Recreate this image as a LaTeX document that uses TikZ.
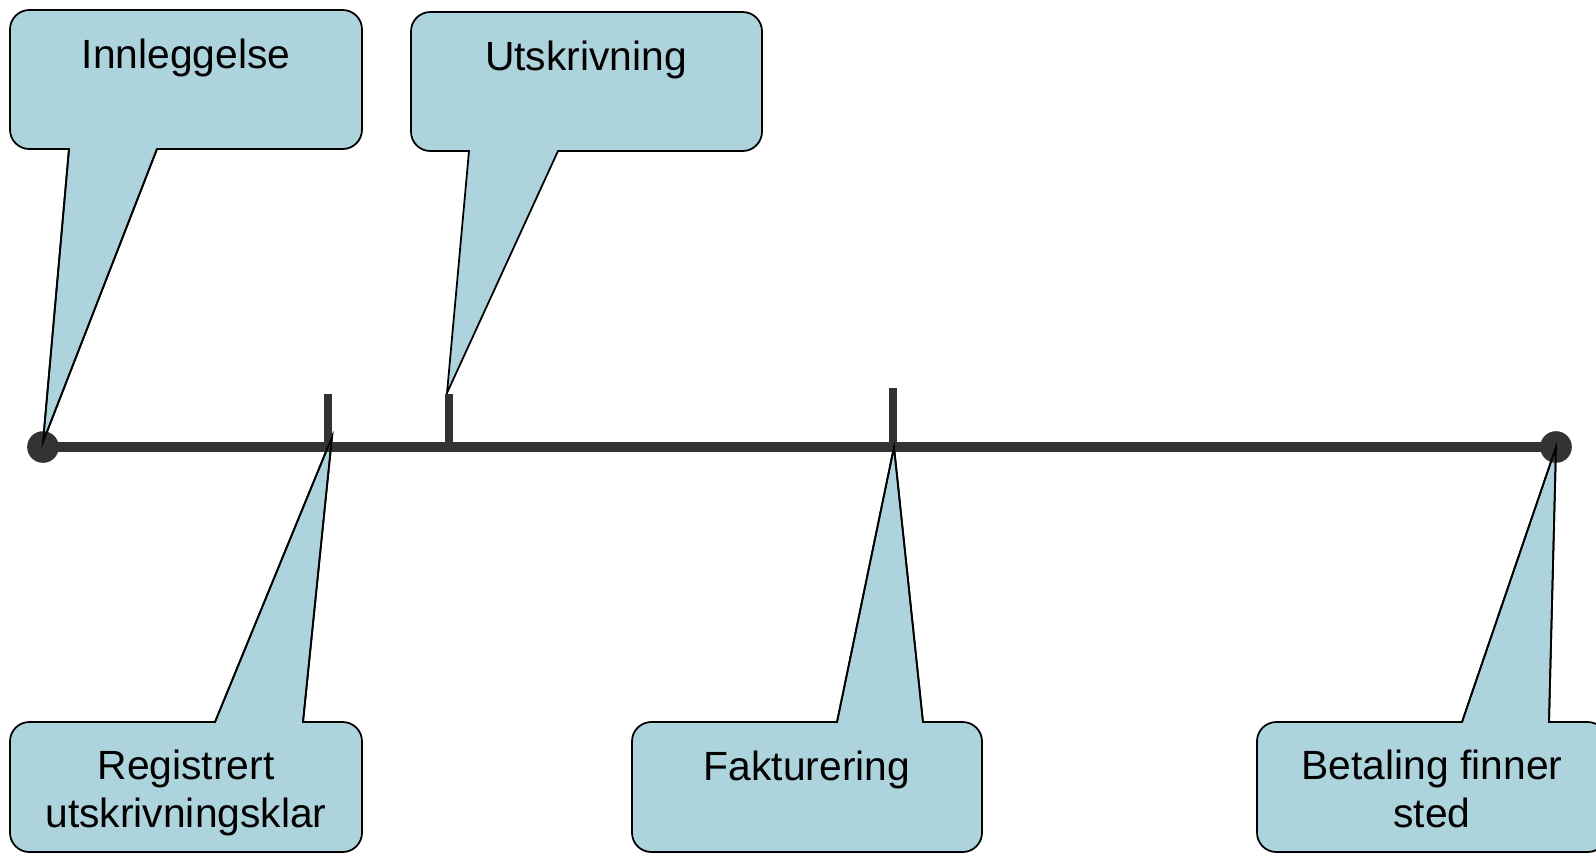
\documentclass[tikz,border=0pt]{standalone}
\usepackage{fontspec}
\setmainfont{Liberation Sans}
\usepackage{tikz}
\usetikzlibrary{calc}
\definecolor{calloutblue}{RGB}{173,211,220}
\definecolor{linegray}{RGB}{51,51,51}

\begin{document}
\begin{tikzpicture}[x=0.01cm,y=-0.01cm,
  callout/.style={fill=calloutblue,draw=black,line width=0.5pt},
  label/.style={anchor=base,inner sep=0pt,align=center,font=\fontsize{11.6}{13.4}\selectfont}]
\clip (0,0) rectangle (1596,856);
\fill[white] (0,0) rectangle (1596,856);
% points on the time line
\coordinate (start) at (43,447);
\coordinate (end) at (1556,447);
\coordinate (regtick) at (328,447);
\coordinate (uttick) at (449,447);
\coordinate (faktick) at (893,447);
% callouts above the line
\filldraw[callout] (69,149) -- (43,442) -- (157,149) [rounded corners=5.5pt] -- (362,149) -- (362,10) -- (10,10) -- (10,149) [sharp corners] -- cycle;
\filldraw[callout] (469,151) -- (447,393) -- (558,151) [rounded corners=5.5pt] -- (762,151) -- (762,12) -- (411,12) -- (411,151) [sharp corners] -- cycle;
% callouts below the line
\filldraw[callout] (215,722) -- (332,437) -- (303,722) [rounded corners=5.5pt] -- (362,722) -- (362,852) -- (10,852) -- (10,722) [sharp corners] -- cycle;
\filldraw[callout] (837,722) -- (894,447) -- (923,722) [rounded corners=5.5pt] -- (982,722) -- (982,852) -- (632,852) -- (632,722) [sharp corners] -- cycle;
\filldraw[callout] (1462,722) -- (1556,447) -- (1549,722) [rounded corners=5.5pt] -- (1607,722) -- (1607,852) -- (1257,852) -- (1257,722) [sharp corners] -- cycle;
% time line
\draw[linegray,line width=2.9pt] (start) -- (end);
\draw[linegray,line width=2.3pt] (regtick) -- ++(0,-53);
\draw[linegray,line width=2.3pt] (uttick) -- ++(0,-53);
\draw[linegray,line width=2.3pt] (faktick) -- ++(0,-59);
\fill[linegray] (start) circle (4.5pt);
\fill[linegray] (end) circle (4.5pt);
% pointer tips over the line
\draw[line width=0.5pt] (69,149) -- (43,442) -- (157,149);
\draw[line width=0.5pt] (215,722) -- (332,437) -- (303,722);
\draw[line width=0.5pt] (837,722) -- (894,447) -- (923,722);
\draw[line width=0.5pt] (1462,722) -- (1556,447) -- (1549,722);
% texts (two-line labels sit on their last line)
\node[label] (innl) at (186,68) {Innleggelse};
\node[label] (utskr) at (586,70) {Utskrivning};
\node[label] (regis) at (186,827) {Registrert\\utskrivningsklar};
\node[label] (faktu) at (807,780) {Fakturering};
\node[label] (betal) at (1432,827) {Betaling finner\\sted};
\end{tikzpicture}
\end{document}
